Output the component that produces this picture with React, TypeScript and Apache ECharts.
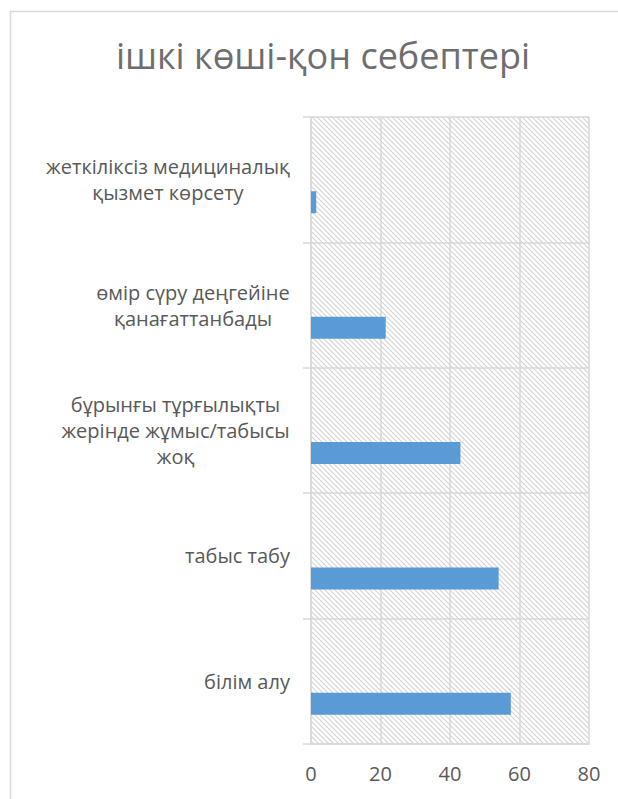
import React, { useEffect, useRef } from 'react';
import * as echarts from 'echarts';

const titleText = 'ішкі көші-қон себептері';
// bottom to top
const categories = [
  'білім алу',
  'табыс табу',
  'бұрынғы тұрғылықты\nжерінде жұмыс/табысы\nжоқ',
  'өмір сүру деңгейіне\nқанағаттанбады',
  'жеткіліксіз медициналық\nқызмет көрсету',
];
const values = [57.5, 54, 43, 21.5, 1.5];
const emptyValues = [null, null, null, null, null];
const xMin = 0;
const xMax = 80;
const xInterval = 20;

const FONT = '"Open Sans", "Noto Sans", sans-serif';
const LABEL_SIZE = 20;
const GRID_COLOR = '#d9d9d9';
const TEXT_COLOR = '#595959';

const tileSvg =
  "<svg xmlns='http://www.w3.org/2000/svg' width='5' height='5'>" +
  "<rect width='5' height='5' fill='white'/>" +
  "<path d='M-1,-1 L6,6 M-1,4 L1,6 M4,-1 L6,1' stroke='#d4d4d4' stroke-width='1.1'/></svg>";

function measure(text: string): number {
  const c = document.createElement('canvas').getContext('2d');
  if (!c) return 200;
  c.font = `${LABEL_SIZE}px ${FONT}`;
  return Math.ceil(Math.max(...text.split('\n').map((l) => c.measureText(l).width)));
}

export default function App() {
  const ref = useRef<HTMLDivElement>(null);
  useEffect(() => {
    if (!ref.current) return;
    const chart = echarts.init(ref.current, null, { renderer: 'svg' });
    const rich: Record<string, any> = {};
    categories.forEach((c, i) => {
      rich['c' + i] = {
        width: measure(c),
        align: 'center',
        fontSize: LABEL_SIZE,
        lineHeight: 26,
        color: TEXT_COLOR,
        fontFamily: FONT,
      };
    });
    chart.setOption({
      animation: false,
      title: {
        text: titleText,
        left: 318,
        textAlign: 'center',
        top: 32,
        textStyle: { fontFamily: FONT, fontSize: 36, fontWeight: 'normal', color: '#6e6e6e' },
      },
      graphic: [
        {
          type: 'rect',
          z: -10,
          shape: { x: 10.5, y: 11.5, width: 700, height: 900 },
          style: { fill: 'none', stroke: GRID_COLOR, lineWidth: 1.5 },
        },
      ],
      grid: {
        left: 311,
        top: 117,
        right: 29,
        bottom: 55,
        show: true,
        borderWidth: 0,
        backgroundColor: {
          image: 'data:image/svg+xml;charset=utf-8,' + encodeURIComponent(tileSvg),
          repeat: 'repeat',
          imageWidth: 5,
          imageHeight: 5,
        },
      },
      xAxis: {
        type: 'value',
        min: xMin,
        max: xMax,
        interval: xInterval,
        axisLine: { show: true, lineStyle: { color: GRID_COLOR, width: 1.5 } },
        axisTick: { show: false },
        splitLine: { show: true, lineStyle: { color: GRID_COLOR, width: 1.5 } },
        axisLabel: { color: TEXT_COLOR, fontSize: LABEL_SIZE, fontFamily: FONT, margin: 19 },
      },
      yAxis: {
        type: 'category',
        data: categories,
        axisLine: { show: true, lineStyle: { color: GRID_COLOR, width: 1.5 } },
        axisTick: { show: true, length: 8, lineStyle: { color: GRID_COLOR, width: 1.5 } },
        splitLine: { show: true, lineStyle: { color: GRID_COLOR, width: 1.5 } },
        axisLabel: {
          align: 'right',
          margin: 21,
          formatter: (v: string, i: number) => `{c${i}|${v}}`,
          rich,
        },
      },
      series: [
        {
          type: 'bar',
          data: emptyValues,
          barWidth: 22,
          barGap: '105%',
          itemStyle: { color: '#ed7d31' },
        },
        {
          type: 'bar',
          data: values,
          barWidth: 22,
          barGap: '105%',
          itemStyle: { color: '#5b9bd5' },
        },
      ],
    });
    return () => chart.dispose();
  }, []);
  return (
    <div
      ref={ref}
      style={{ position: 'absolute', left: 0, top: 0, width: 618, height: 799, background: '#fff' }}
    />
  );
}
